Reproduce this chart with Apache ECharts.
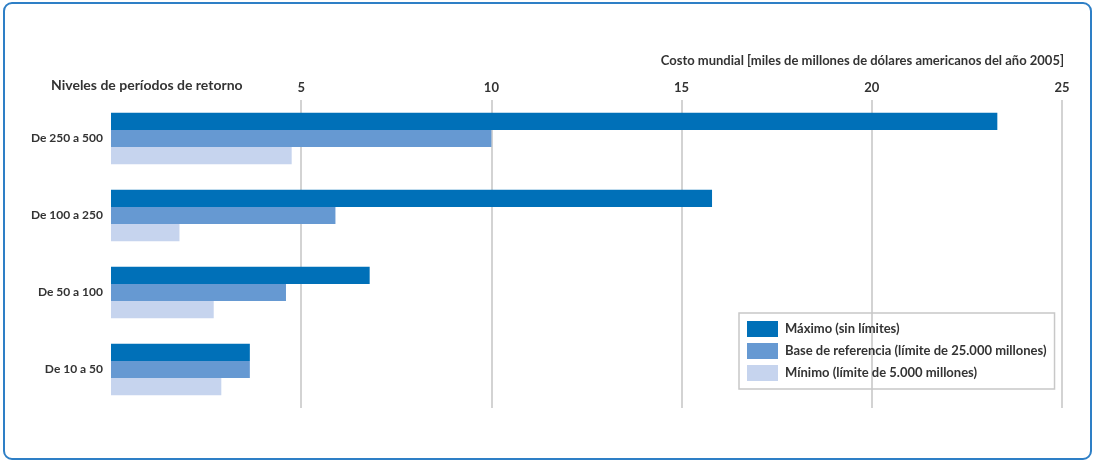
<!DOCTYPE html>
<html><head><meta charset="utf-8">
<script src="https://cdn.jsdelivr.net/npm/echarts@6/dist/echarts.min.js"></script>
<style>html,body{margin:0;padding:0;background:#fff}#c{width:1095px;height:462px}</style>
</head><body><div id="c"></div>
<script>
const categories = ['De 250 a 500', 'De 100 a 250', 'De 50 a 100', 'De 10 a 50'];
const seriesNames = ['Máximo (sin límites)', 'Base de referencia (límite de 25.000 millones)', 'Mínimo (límite de 5.000 millones)'];
const maximo = [23.3, 15.8, 6.8, 3.65];
const base = [10.0, 5.9, 4.6, 3.65];
const minimo = [4.75, 1.8, 2.7, 2.9];
const xTicks = [5, 10, 15, 20, 25];
const xTitle = 'Costo mundial [miles de millones de dólares americanos del año 2005]';
const yTitle = 'Niveles de períodos de retorno';

const FONT = 'Lato';
const TXT = '#333333';
const colors = ['#0070b8', '#6699d2', '#c6d4ee'];
const chart = echarts.init(document.getElementById('c'), null, {renderer: 'canvas'});
const vals = [maximo, base, minimo];
chart.setOption({
  animation: false,
  textStyle: {fontFamily: FONT},
  graphic: [{
    type: 'rect', shape: {x: 4, y: 3, width: 1087, height: 456, r: 8},
    style: {fill: 'none', stroke: '#2e7fc6', lineWidth: 2}, z: -1
  }],
  title: [
    {text: xTitle, right: 31, top: 54, textStyle: {fontFamily: FONT, fontSize: 13, fontWeight: 'bold', color: TXT}, padding: 0},
    {text: yTitle, left: 51, top: 78, textStyle: {fontFamily: FONT, fontSize: 14, fontWeight: 'bold', color: TXT}, padding: 0}
  ],
  legend: {
    orient: 'vertical', left: 739, top: 313,
    padding: [8, 8, 8, 8],
    itemWidth: 31, itemHeight: 16, itemGap: 6,
    borderColor: '#c8c8c8', borderWidth: 1.5, borderRadius: 0,
    icon: 'rect',
    textStyle: {fontFamily: FONT, fontSize: 13, fontWeight: 'bold', color: TXT, padding: [0, 0, 0, 2]},
    data: seriesNames
  },
  grid: {left: 111, right: 33, top: 100, height: 308, containLabel: false},
  xAxis: {type: 'value', min: 0, max: 25, interval: 5, position: 'top',
     axisLine: {show: false}, axisTick: {show: false},
     axisLabel: {show: true, margin: 6, fontFamily: FONT, fontSize: 13, fontWeight: 'bold', color: TXT,
       formatter: v => xTicks.includes(v) ? String(v) : ''},
     splitLine: {show: true, showMinLine: false, lineStyle: {color: '#c4c4c4', width: 1.5}}},
  yAxis: {type: 'category', data: categories, inverse: true,
     axisLine: {show: false}, axisTick: {show: false},
     axisLabel: {margin: 8, fontFamily: FONT, fontSize: 12, fontWeight: 'bold', color: TXT}},
  series: seriesNames.map((n, i) => ({
    name: n, type: 'bar',
    data: vals[i], barGap: '0%', barCategoryGap: '33%',
    itemStyle: {color: colors[i]}, z: 3
  }))
});
</script></body></html>
